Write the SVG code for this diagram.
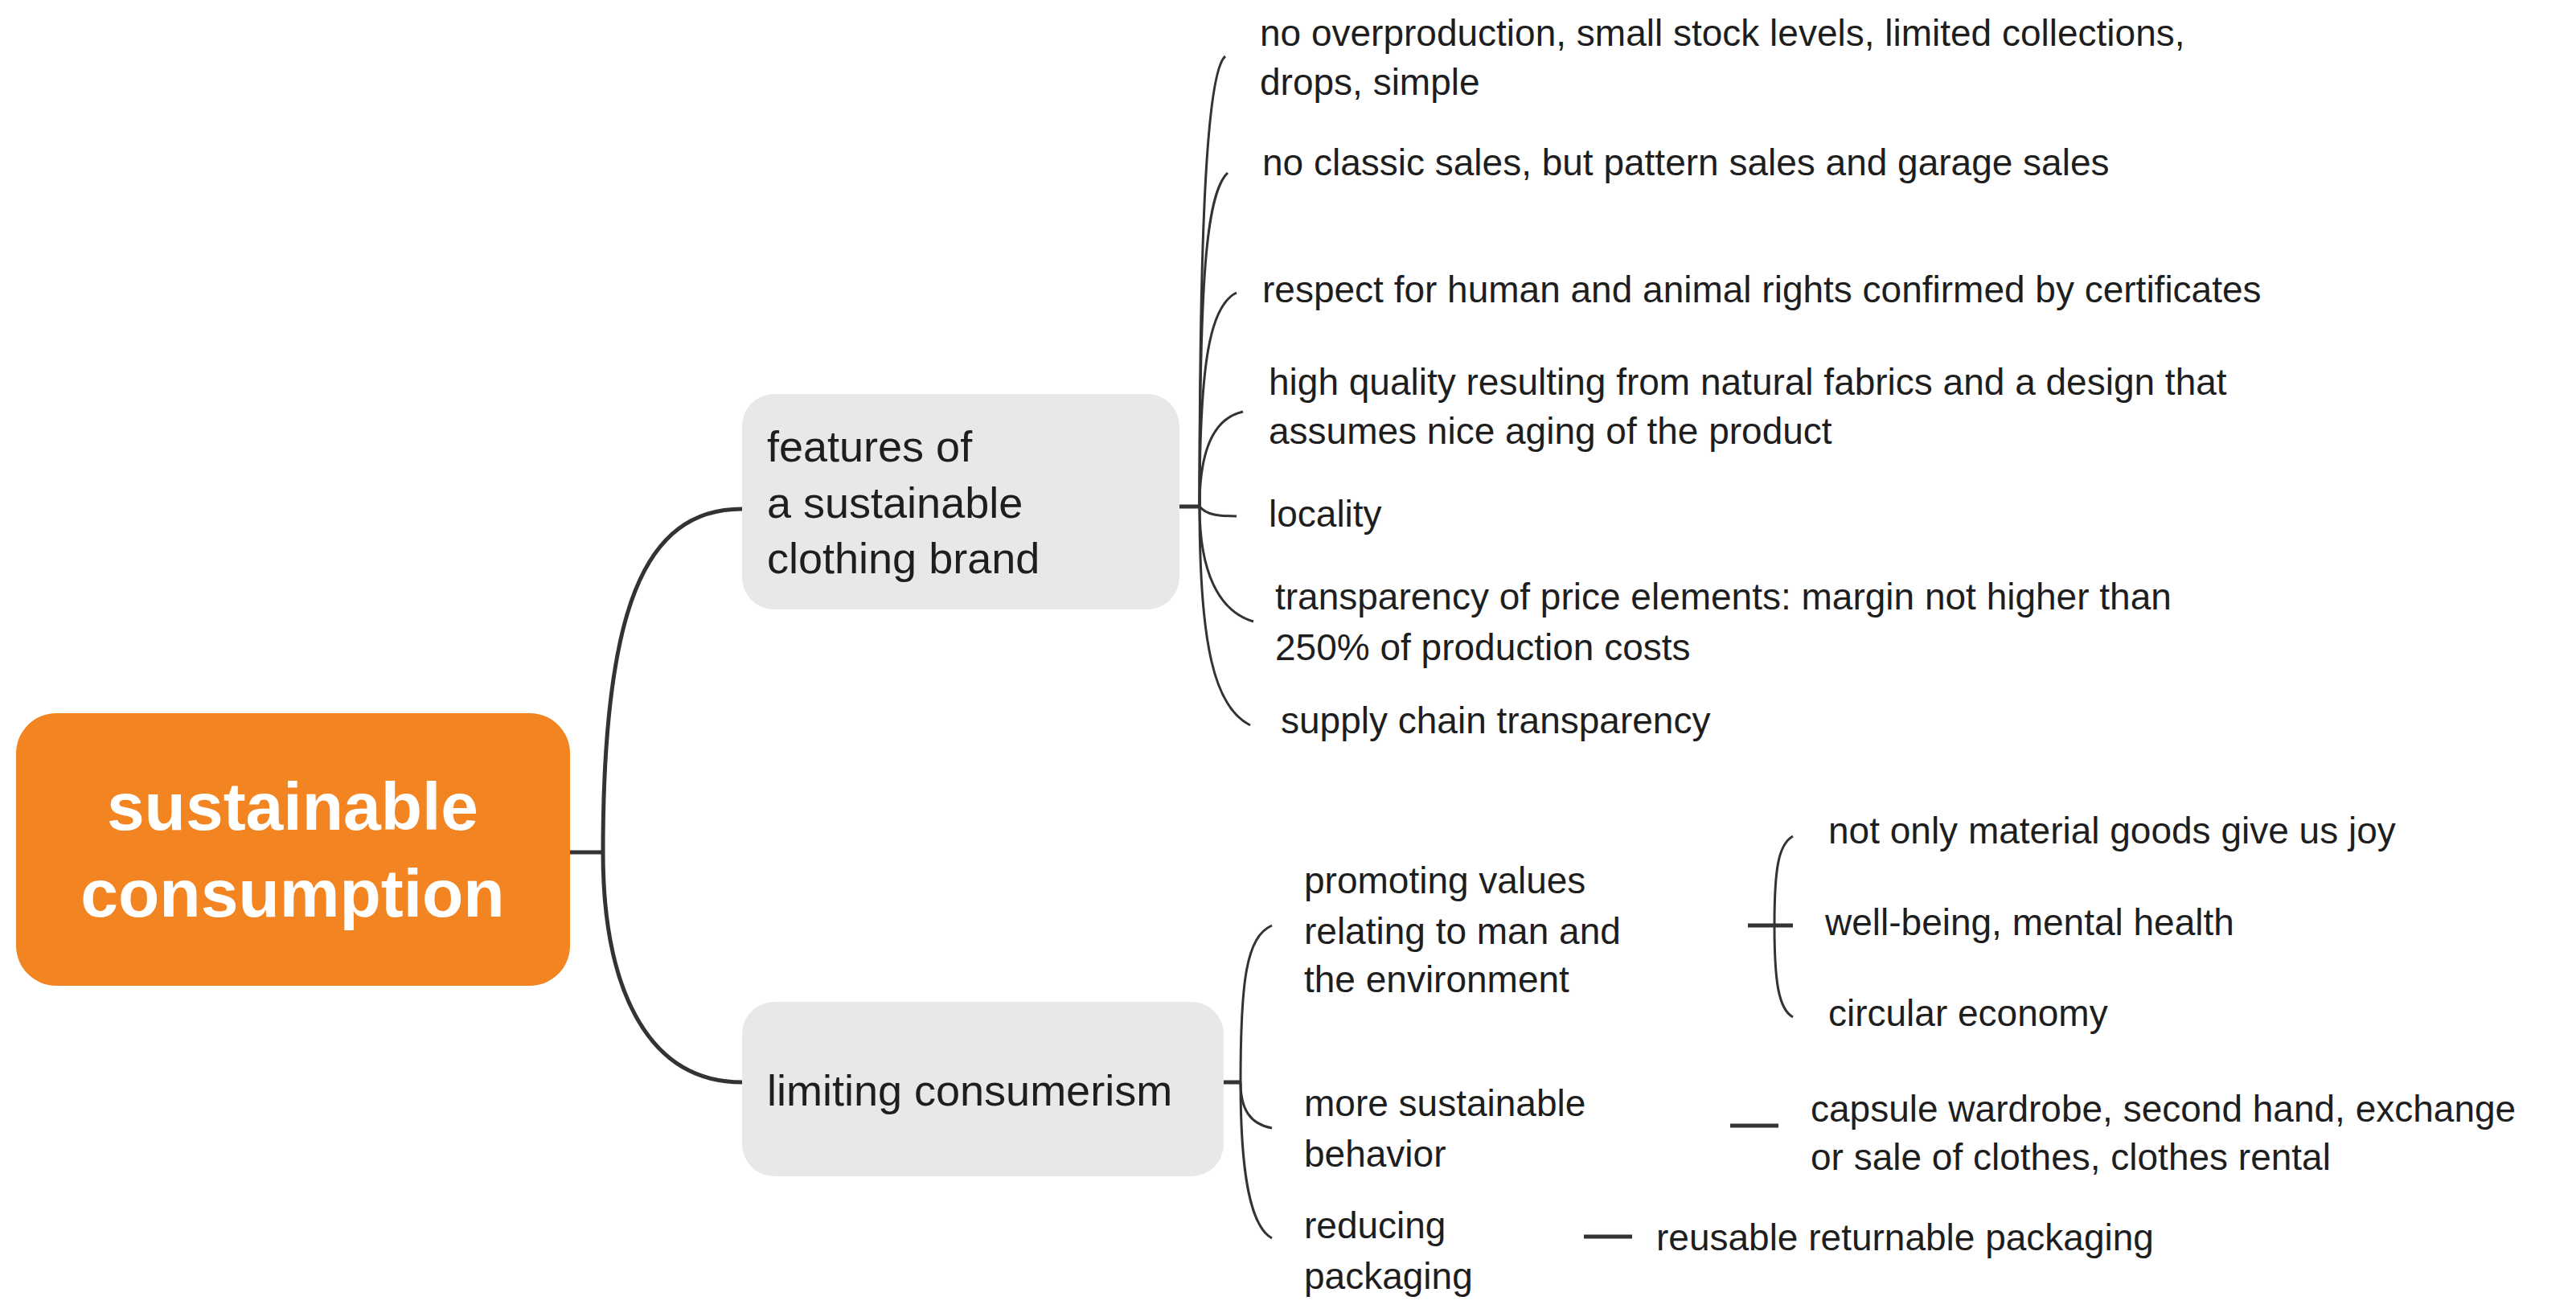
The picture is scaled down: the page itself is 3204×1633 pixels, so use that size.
<svg xmlns="http://www.w3.org/2000/svg" width="3204" height="1633" viewBox="0 0 3204 1633">
<style>
text{font-family:"Liberation Sans",Arial,sans-serif;fill:#1e1e1e}
.t{font-size:46px}
.m{font-size:54px}
.c{stroke:#333;stroke-width:3;fill:none}
.cb{stroke:#333;stroke-width:5;fill:none}
</style>
<rect width="3204" height="1633" fill="#fff"/>
<g id="connectors">
<path class="cb" d="M709 1060 H750"/>
<path class="cb" d="M750 1060 C750 760 800 633 923 633"/>
<path class="cb" d="M750 1060 C750 1220 800 1346 923 1346"/>
<path class="cb" d="M1467 630 H1492"/>
<path class="c" d="M1492 630 C1492 300 1500 90 1524 70"/>
<path class="c" d="M1492 630 C1492 350 1500 240 1527 215"/>
<path class="c" d="M1492 630 C1492 450 1505 380 1538 364"/>
<path class="c" d="M1492 630 C1492 560 1510 520 1546 512"/>
<path class="c" d="M1492 630 C1500 640 1515 642 1538 642"/>
<path class="c" d="M1492 630 C1492 710 1515 760 1559 773"/>
<path class="c" d="M1492 630 C1492 800 1510 880 1555 902"/>
<path class="cb" d="M1522 1346 H1543"/>
<path class="c" d="M1543 1346 C1543 1220 1550 1165 1582 1151"/>
<path class="c" d="M1543 1346 C1543 1380 1555 1398 1582 1403"/>
<path class="c" d="M1543 1346 C1543 1460 1555 1525 1582 1540"/>
<path class="c" d="M2207 1151 C2207 1080 2212 1050 2230 1040"/>
<path class="c" d="M2207 1151 C2207 1220 2212 1255 2230 1265"/>
<path class="cb" d="M2174 1151 H2230"/>
<path class="cb" d="M2152 1400 H2212"/>
<path class="cb" d="M1970 1538 H2030"/>
</g>
<g id="root">
<rect x="20" y="887" width="689" height="339" rx="50" fill="#F28522"/>
<text x="364" y="1032" text-anchor="middle" font-size="84" font-weight="bold" style="fill:#fff">sustainable</text>
<text x="364" y="1140" text-anchor="middle" font-size="84" font-weight="bold" style="fill:#fff">consumption</text>
</g>
<g id="features">
<rect x="923" y="490" width="544" height="268" rx="40" fill="#E8E8E8"/>
<text class="m" x="954" y="574">features of</text>
<text class="m" x="954" y="644">a sustainable</text>
<text class="m" x="954" y="713">clothing brand</text>
</g>
<g id="limiting">
<rect x="923" y="1246" width="599" height="217" rx="40" fill="#E8E8E8"/>
<text class="m" x="954" y="1375">limiting consumerism</text>
</g>
<g id="f1"><text class="t" x="1567" y="57">no overproduction, small stock levels, limited collections,</text><text class="t" x="1567" y="118">drops, simple</text></g>
<g id="f2"><text class="t" x="1570" y="218">no classic sales, but pattern sales and garage sales</text></g>
<g id="f3"><text class="t" x="1570" y="376">respect for human and animal rights confirmed by certificates</text></g>
<g id="f4"><text class="t" x="1578" y="491">high quality resulting from natural fabrics and a design that</text><text class="t" x="1578" y="552">assumes nice aging of the product</text></g>
<g id="f5"><text class="t" x="1578" y="655">locality</text></g>
<g id="f6"><text class="t" x="1586" y="758">transparency of price elements: margin not higher than</text><text class="t" x="1586" y="821">250% of production costs</text></g>
<g id="f7"><text class="t" x="1593" y="912">supply chain transparency</text></g>
<g id="l1"><text class="t" x="1622" y="1111">promoting values</text><text class="t" x="1622" y="1174">relating to man and</text><text class="t" x="1622" y="1234">the environment</text></g>
<g id="l2"><text class="t" x="1622" y="1388">more sustainable</text><text class="t" x="1622" y="1451">behavior</text></g>
<g id="l3"><text class="t" x="1622" y="1540">reducing</text><text class="t" x="1622" y="1603">packaging</text></g>
<g id="p1"><text class="t" x="2274" y="1049">not only material goods give us joy</text></g>
<g id="p2"><text class="t" x="2270" y="1163">well-being, mental health</text></g>
<g id="p3"><text class="t" x="2274" y="1276">circular economy</text></g>
<g id="s1"><text class="t" x="2252" y="1395">capsule wardrobe, second hand, exchange</text><text class="t" x="2252" y="1455">or sale of clothes, clothes rental</text></g>
<g id="r1"><text class="t" x="2060" y="1555">reusable returnable packaging</text></g>
</svg>
